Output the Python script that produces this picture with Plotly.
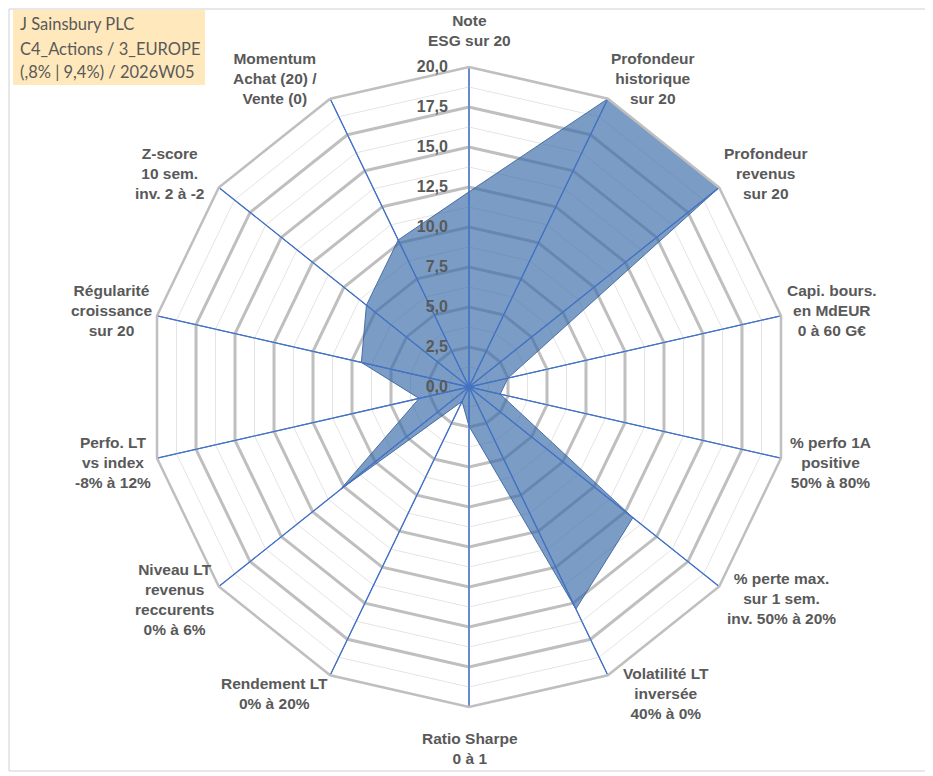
import plotly.graph_objects as go

# axes of the radar, clockwise from the top
categories = ["ESG", "Hist", "Revenus", "Capi", "Perfo1A", "PerteMax", "Volat",
              "Sharpe", "Rendement", "NiveauLT", "PerfoLT", "Regularite", "Zscore", "Momentum"]
axis_labels = [
    "Note<br>ESG sur 20",
    "Profondeur<br>historique<br>sur 20",
    "Profondeur<br>revenus<br>sur 20",
    "Capi. bours.<br>en MdEUR<br>0 à 60 G€",
    "% perfo 1A<br>positive<br>50% à 80%",
    "% perte max.<br>sur 1 sem.<br>inv. 50% à 20%",
    "Volatilité LT<br>inversée<br>40% à 0%",
    "Ratio Sharpe<br>0 à 1",
    "Rendement LT<br>0% à 20%",
    "Niveau LT<br>revenus<br>reccurents<br>0% à 6%",
    "Perfo. LT<br>vs index<br>-8% à 12%",
    "Régularité<br>croissance<br>sur 20",
    "Z-score<br>10 sem.<br>inv. 2 à -2",
    "Momentum<br>Achat (20) /<br>Vente (0)",
]
scores = [12.2, 20.0, 20.0, 2.5, 2.0, 13.1, 15.4, 2.45, 1.0, 10.3, 3.2, 6.9, 8.2, 10.2]

major_ticks = [0, 2.5, 5, 7.5, 10, 12.5, 15, 17.5, 20]
minor_ticks = [1.25, 3.75, 6.25, 8.75, 11.25, 13.75, 16.25, 18.75]
r_max = 20

title_lines = ["J Sainsbury PLC", "C4_Actions / 3_EUROPE", "(,8% | 9,4%) / 2026W05"]

# label positions in pixels (x, y) as seen on the 933x776 page
label_xy = [(469, 30), (653, 79), (766, 173), (832, 310), (830, 462), (781, 598),
            (666, 693), (470, 748), (274, 693), (174, 599), (113, 462), (111, 310),
            (170, 173), (275, 79)]
title_y = [24, 49, 72]

OFF = 8  # the page body adds 8px around the figure
W, H = 933 - OFF, 776 - OFF
cx, cy, R = 469 - OFF, 387 - OFF, 320


def px(x):
    return (x - OFF) / W


def py(y):
    return 1 - (y - OFF) / H


fig = go.Figure()

# light minor rings
for v in minor_ticks:
    fig.add_trace(go.Scatterpolar(
        r=[v] * (len(categories) + 1), theta=categories + [categories[0]],
        mode="lines", line=dict(color="#E4E4E4", width=1),
        hoverinfo="skip", showlegend=False))

fig.add_trace(go.Scatterpolar(
    r=scores + [scores[0]], theta=categories + [categories[0]],
    mode="lines", fill="toself", fillcolor="rgba(60,110,170,0.68)",
    line=dict(color="rgba(60,100,160,0.9)", width=1),
    showlegend=False, name="Score"))

# blue spokes above the fill
sr, st = [], []
for c in categories:
    sr += [0, r_max, None]
    st += [c, c, c]
fig.add_trace(go.Scatterpolar(
    r=sr, theta=st, mode="lines", line=dict(color="#4472C4", width=1.3),
    hoverinfo="skip", showlegend=False, connectgaps=False))

lab_font = dict(family="Liberation Sans", size=15.5, color="#595959", weight="bold")
annotations = []
for txt, (x, y) in zip(axis_labels, label_xy):
    annotations.append(dict(text=txt, x=px(x), y=py(y), xref="paper", yref="paper",
                            showarrow=False, xanchor="center", yanchor="middle",
                            align="center", font=lab_font))

for txt, y in zip(title_lines, title_y):
    annotations.append(dict(text=txt, x=px(18), y=py(y), xref="paper", yref="paper",
                            showarrow=False, xanchor="left", yanchor="middle",
                            font=dict(family="Lato", size=16.5, color="#595959")))

fig.update_layout(
    width=W, height=H,
    margin=dict(l=0, r=0, t=0, b=0),
    paper_bgcolor="white",
    showlegend=False,
    polar=dict(
        domain=dict(x=[(cx - R) / W, (cx + R) / W], y=[(H - cy - R) / H, (H - cy + R) / H]),
        gridshape="linear",
        bgcolor="white",
        angularaxis=dict(type="category", categoryarray=categories, rotation=90,
                         direction="clockwise", showticklabels=False, ticks="",
                         showline=True, linecolor="#BFBFBF", linewidth=2.5,
                         showgrid=True, gridcolor="#4472C4", gridwidth=1.2),
        radialaxis=dict(range=[0, r_max], tickvals=major_ticks,
                        ticktext=[f"{v:.1f}".replace(".", ",") for v in major_ticks],
                        angle=90, tickangle=90, side="counterclockwise", showline=False,
                        ticks="outside", ticklen=15, tickcolor="rgba(0,0,0,0)",
                        gridcolor="#BFBFBF", gridwidth=2.5, layer="above traces",
                        tickfont=dict(family="Liberation Sans", size=16, color="#595959",
                                      weight="bold")),
    ),
    annotations=annotations,
    shapes=[dict(type="rect", xref="paper", yref="paper", x0=px(13), x1=px(205),
                 y0=py(85), y1=py(10), fillcolor="#FFE8BC", line=dict(width=0),
                 layer="below"),
            dict(type="rect", xref="paper", yref="paper", x0=px(9), x1=px(927),
                 y0=py(771), y1=py(9), line=dict(color="#D0D0D0", width=1))],
)

fig.write_html("out.html")
